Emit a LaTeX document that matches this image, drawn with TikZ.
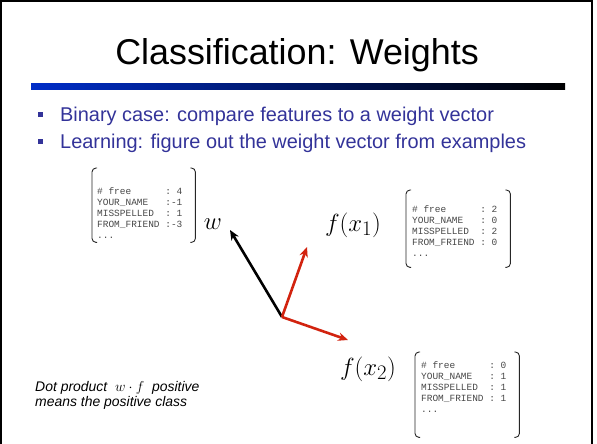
\documentclass[tikz,border=0pt]{standalone}
\usepackage{fontspec}
\setmainfont{Liberation Sans}
\newfontfamily\vecfont{Liberation Mono}
\usetikzlibrary{arrows.meta}
\definecolor{bulletblue}{RGB}{51,51,153}
\definecolor{arrowred}{RGB}{210,35,15}
\definecolor{barblue}{RGB}{0,45,200}
\newcommand\drawbrackets[1]{%
  \draw[bracket] ([xshift=5bp]#1.north west) -- (#1.north west) -- (#1.south west) -- ([xshift=5bp]#1.south west);
  \draw[bracket] ([xshift=-5bp]#1.north east) -- (#1.north east) -- (#1.south east) -- ([xshift=-5bp]#1.south east);}
\newcommand\bigsub[1]{\hbox{\fontsize{20}{20}\selectfont$#1$}}
\tikzset{
  bracket/.style={line width=0.9bp, rounded corners=4bp, black!85},
  brbox/.style={inner sep=0pt, anchor=north west},
  vectext/.style={inner sep=0pt, anchor=north west, align=left, text=black!72,
    font=\vecfont\fontsize{9.5}{11.2}\selectfont},
  mathlbl/.style={inner sep=0pt, font=\fontsize{26}{30}\selectfont},
  bullettext/.style={inner sep=0pt, anchor=base west, text=bulletblue, font=\fontsize{20}{24}\selectfont},
  bulletsq/.style={fill=bulletblue, minimum size=5bp, inner sep=0pt},
  vecarrow/.style={line width=2.6bp, -{Stealth[length=10bp,width=8.5bp]}},
}
\begin{document}
\begin{tikzpicture}[x=1bp,y=-1bp]
\useasboundingbox (0,0) rectangle (597,444);
% frame
\draw[line width=2bp] (1,444) -- (1,1) -- (592,1) -- (592,444);
% title
\node[inner sep=0pt, anchor=base, font=\fontsize{36}{40}\selectfont] (title) at (297,65) {Classification: Weights};
\shade[left color=barblue, right color=black] (31,84) rectangle (565,90);
% bullets
\node[bulletsq] (s1) at (40,115) {};
\node[bullettext] (b1) at (60,122) {Binary case: compare features to a weight vector};
\node[bulletsq] (s2) at (40,142) {};
\node[bullettext] (b2) at (60,149) {Learning: figure out the weight vector from examples};
% weight vector box
\node[brbox, minimum width=103bp, minimum height=74bp] (wb) at (92,168) {};
\drawbrackets{wb}
\node[vectext] (wt) at (97,187) {\#\ free\ \ \ \ \ \ :\ 4\\YOUR\_NAME\ \ \ :-1\\MISSPELLED\ \ :\ 1\\FROM\_FRIEND\ :-3\\...};
\node[mathlbl, font=\fontsize{24}{28}\selectfont] (w) at (213,224) {$w$};
% f(x1) box
\node[brbox, minimum width=104bp, minimum height=77bp] (fb1) at (406,190) {};
\drawbrackets{fb1}
\node[vectext] (ft1) at (412,205) {\#\ free\ \ \ \ \ \ :\ 2\\YOUR\_NAME\ \ \ :\ 0\\MISSPELLED\ \ :\ 2\\FROM\_FRIEND\ :\ 0\\...};
\node[mathlbl] (fx1) at (353,225) {$f(x_{\bigsub{1}})$};
% f(x2) box
\node[brbox, minimum width=104bp, minimum height=85bp] (fb2) at (415,352) {};
\drawbrackets{fb2}
\node[vectext] (ft2) at (421,361) {\#\ free\ \ \ \ \ \ :\ 0\\YOUR\_NAME\ \ \ :\ 1\\MISSPELLED\ \ :\ 1\\FROM\_FRIEND\ :\ 1\\...};
\node[mathlbl] (fx2) at (368,369) {$f(x_{\bigsub{2}})$};
% vectors
\coordinate (o) at (282,317);
\coordinate (wtip) at (230,230);
\coordinate (f1tip) at (307,247);
\coordinate (f2tip) at (348,340);
\draw[vecarrow, black] (o) -- (wtip);
\draw[vecarrow, arrowred] (o) -- (f1tip);
\draw[vecarrow, arrowred] (o) -- (f2tip);
% note
\node[inner sep=0pt, anchor=north west, align=left, font=\itshape\fontsize{14}{15.5}\selectfont] (note) at (35,381) {Dot product \ $w\cdot f$ \ positive\\means the positive class};
\end{tikzpicture}
\end{document}
